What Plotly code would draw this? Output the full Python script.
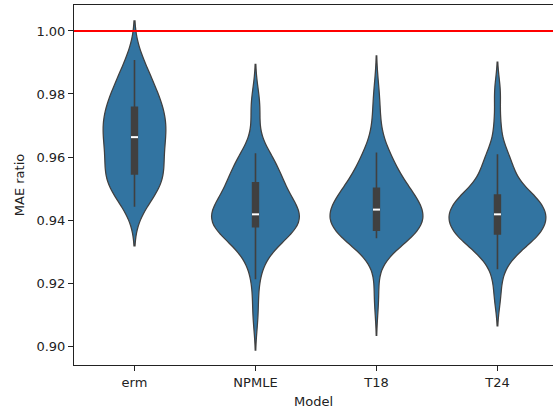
import numpy as np
import plotly.graph_objects as go

# Model names in display order
models = ["erm", "NPMLE", "T18", "T24"]

# MAE ratio per run, one list per model (40 runs each)
erm_ratio = [
    0.9442, 0.9468, 0.9485, 0.9497, 0.9508, 0.9517, 0.9525, 0.9532, 0.9538, 0.9543,
    0.9549, 0.9562, 0.9578, 0.9592, 0.9606, 0.9619, 0.9631, 0.9643, 0.9653, 0.9660,
    0.9666, 0.9676, 0.9686, 0.9695, 0.9705, 0.9714, 0.9724, 0.9735, 0.9745, 0.9754,
    0.9762, 0.9775, 0.9786, 0.9797, 0.9810, 0.9826, 0.9845, 0.9866, 0.9886, 0.9908,
]
npmle_ratio = [
    0.9103, 0.9212, 0.9275, 0.9310, 0.9330, 0.9343, 0.9354, 0.9363, 0.9370, 0.9375,
    0.9383, 0.9388, 0.9393, 0.9398, 0.9403, 0.9407, 0.9410, 0.9413, 0.9415, 0.9417,
    0.9419, 0.9428, 0.9440, 0.9453, 0.9466, 0.9478, 0.9489, 0.9499, 0.9507, 0.9514,
    0.9522, 0.9537, 0.9552, 0.9567, 0.9581, 0.9594, 0.9604, 0.9612, 0.9738, 0.9778,
]
t18_ratio = [
    0.9160, 0.9342, 0.9346, 0.9350, 0.9354, 0.9357, 0.9360, 0.9362, 0.9364, 0.9366,
    0.9370, 0.9378, 0.9386, 0.9393, 0.9400, 0.9407, 0.9414, 0.9420, 0.9426, 0.9431,
    0.9435, 0.9442, 0.9449, 0.9456, 0.9463, 0.9470, 0.9477, 0.9484, 0.9491, 0.9497,
    0.9505, 0.9524, 0.9543, 0.9561, 0.9579, 0.9595, 0.9606, 0.9614, 0.9714, 0.9795,
]
t24_ratio = [
    0.9160, 0.9244, 0.9282, 0.9305, 0.9320, 0.9331, 0.9339, 0.9345, 0.9350, 0.9353,
    0.9359, 0.9366, 0.9373, 0.9381, 0.9388, 0.9395, 0.9401, 0.9407, 0.9412, 0.9416,
    0.9420, 0.9427, 0.9434, 0.9441, 0.9448, 0.9455, 0.9462, 0.9468, 0.9473, 0.9477,
    0.9481, 0.9498, 0.9517, 0.9538, 0.9560, 0.9583, 0.9599, 0.9609, 0.9700, 0.9805,
]
series = [erm_ratio, npmle_ratio, t18_ratio, t24_ratio]

# kernel bandwidth per model
bandwidths = [0.0062, 0.0058, 0.0063, 0.0048]

y_ticks = [0.90, 0.92, 0.94, 0.96, 0.98, 1.00]
reference_level = 1.0

FILL = "#3274a1"
EDGE = "#404040"
FONT = "DejaVu Sans"
MAX_WIDTH = 0.8      # widest violin, in category units
BOX_FRAC = 0.06      # inner box width relative to MAX_WIDTH


def kde_peak(vals, bw):
    """Peak of the gaussian KDE over the soft span (min-2bw .. max+2bw)."""
    v = np.asarray(vals, dtype=float)
    grid = np.linspace(v.min() - 2 * bw, v.max() + 2 * bw, 4001)
    z = (grid[:, None] - v[None, :]) / bw
    dens = np.exp(-0.5 * z ** 2).sum(axis=1) / (len(v) * bw * np.sqrt(2 * np.pi))
    return dens.max()


# equal-area scaling: width proportional to each density's peak height
peaks = np.array([kde_peak(v, bw) for v, bw in zip(series, bandwidths)])
widths = MAX_WIDTH * peaks / peaks.max()

fig = go.Figure()

for name, vals, bw, w in zip(models, series, bandwidths, widths):
    fig.add_trace(go.Violin(
        x=[name] * len(vals),
        y=vals,
        name=name,
        width=float(w),
        bandwidth=bw,
        spanmode="soft",
        points=False,
        fillcolor=FILL,
        line=dict(color=EDGE, width=1.25),
        box=dict(visible=True, width=float(BOX_FRAC * MAX_WIDTH / w),
                 fillcolor=EDGE, line=dict(color=EDGE, width=1.6)),
        meanline=dict(visible=False),
        hoverinfo="skip",
        showlegend=False,
    ))

# white median ticks on the inner boxes
fig.add_trace(go.Scatter(
    x=models,
    y=[float(np.median(v)) for v in series],
    mode="markers",
    marker=dict(symbol="line-ew", size=5, color="white",
                line=dict(color="white", width=2)),
    hoverinfo="skip",
    showlegend=False,
))

# reference line at ratio 1
fig.add_shape(type="line", xref="paper", x0=0, x1=1,
              yref="y", y0=reference_level, y1=reference_level,
              line=dict(color="red", width=2), layer="above")

fig.update_layout(
    width=553, height=412,
    margin=dict(l=74, r=0, t=5, b=47),
    paper_bgcolor="white", plot_bgcolor="white",
    violinmode="overlay",
    font=dict(family=FONT, size=13, color="#222"),
    xaxis=dict(
        type="category", categoryorder="array", categoryarray=models,
        range=[-0.5, 3.459],
        showline=True, linecolor="#222", linewidth=1, mirror=True,
        ticks="outside", ticklen=5, tickwidth=1, tickcolor="#222",
        showgrid=False, zeroline=False,
        title=dict(text="Model", font=dict(family=FONT, size=13), standoff=8),
    ),
    yaxis=dict(
        range=[0.89397, 1.00825],
        tickvals=y_ticks, tickformat=".2f",
        showline=True, linecolor="#222", linewidth=1,
        ticks="outside", ticklen=5, tickwidth=1, tickcolor="#222",
        showgrid=False, zeroline=False,
        title=dict(text="MAE ratio", font=dict(family=FONT, size=13), standoff=8),
    ),
)

fig.write_html("out.html")
